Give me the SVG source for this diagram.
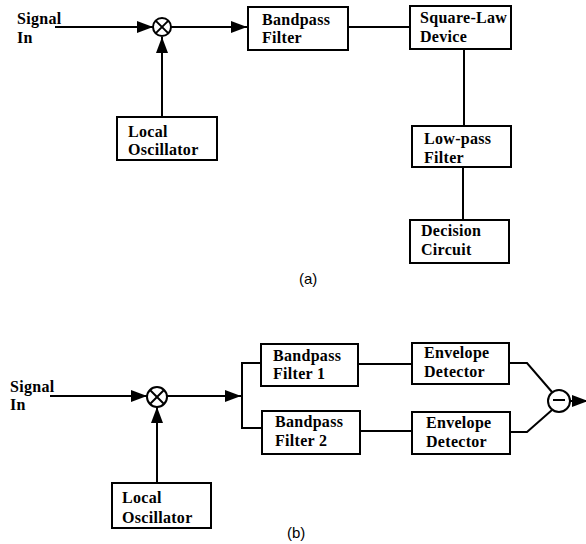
<svg xmlns="http://www.w3.org/2000/svg" width="586" height="544" viewBox="0 0 586 544">
<style>
.box{fill:#fff;stroke:#000;stroke-width:2}
.ln{fill:none;stroke:#000;stroke-width:2}
.t{font-family:"Liberation Serif",serif;font-weight:bold;font-size:16px;letter-spacing:0.3px;fill:#000}
.cap{font-family:"Liberation Sans",Arial,sans-serif;font-size:15px;fill:#000}
</style>
<defs>
<marker id="ah" viewBox="0 0 16 12" refX="16" refY="6" markerWidth="16" markerHeight="12" markerUnits="userSpaceOnUse" orient="auto">
<path d="M0,0 L16,6 L0,12 Z" fill="#000"/>
</marker>
</defs>
<g id="connectors">
<line class="ln" x1="55" y1="27" x2="153" y2="27" marker-end="url(#ah)"/>
<line class="ln" x1="162" y1="117" x2="162" y2="37" marker-end="url(#ah)"/>
<line class="ln" x1="171" y1="27" x2="247" y2="27" marker-end="url(#ah)"/>
<line class="ln" x1="348" y1="27" x2="410" y2="27"/>
<line class="ln" x1="464" y1="49" x2="464" y2="126"/>
<line class="ln" x1="463" y1="167" x2="463" y2="220"/>
<line class="ln" x1="50" y1="396" x2="147" y2="396" marker-end="url(#ah)"/>
<line class="ln" x1="157" y1="483" x2="157" y2="407" marker-end="url(#ah)"/>
<line class="ln" x1="167" y1="396" x2="241" y2="396" marker-end="url(#ah)"/>
<polyline class="ln" points="261,363 242,363 242,428 262,428"/>
<line class="ln" x1="358" y1="364" x2="412" y2="364"/>
<line class="ln" x1="360" y1="431" x2="412" y2="431"/>
<polyline class="ln" points="509,363 527,363 552,392"/>
<polyline class="ln" points="510,432 527,432 552,410"/>
<line class="ln" x1="570" y1="401" x2="588" y2="401" marker-end="url(#ah)"/>
</g>
<g id="mixer-a">
<circle class="box" cx="162" cy="27" r="9"/>
<line class="ln" x1="155.6" y1="20.6" x2="168.4" y2="33.4"/>
<line class="ln" x1="168.4" y1="20.6" x2="155.6" y2="33.4"/>
</g>
<g id="signal-in-a"><text class="t" x="17" y="24">Signal</text><text class="t" x="17" y="43">In</text></g>
<g id="bandpass-a"><rect class="box" x="248" y="7" width="100" height="43"/><text class="t" x="262" y="25">Bandpass</text><text class="t" x="262" y="43">Filter</text></g>
<g id="squarelaw-a"><rect class="box" x="410" y="6" width="101" height="43"/><text class="t" x="420" y="23">Square-Law</text><text class="t" x="420" y="42">Device</text></g>
<g id="lowpass-a"><rect class="box" x="412" y="126" width="99" height="41"/><text class="t" x="424" y="144">Low-pass</text><text class="t" x="424" y="163">Filter</text></g>
<g id="decision-a"><rect class="box" x="410" y="220" width="99" height="43"/><text class="t" x="421" y="236">Decision</text><text class="t" x="421" y="255">Circuit</text></g>
<g id="lo-a"><rect class="box" x="117" y="117" width="100" height="43"/><text class="t" x="128" y="137">Local</text><text class="t" x="128" y="155">Oscillator</text></g>
<text class="cap" x="299" y="284">(a)</text>
<g id="mixer-b">
<circle class="box" cx="157" cy="397" r="10"/>
<line class="ln" x1="150" y1="390" x2="164" y2="404"/>
<line class="ln" x1="164" y1="390" x2="150" y2="404"/>
</g>
<g id="signal-in-b"><text class="t" x="10" y="392">Signal</text><text class="t" x="10" y="410">In</text></g>
<g id="lo-b"><rect class="box" x="112" y="483" width="99" height="45"/><text class="t" x="122" y="503">Local</text><text class="t" x="122" y="523">Oscillator</text></g>
<g id="bpf1-b"><rect class="box" x="261" y="344" width="97" height="42"/><text class="t" x="273" y="361">Bandpass</text><text class="t" x="273" y="379">Filter 1</text></g>
<g id="bpf2-b"><rect class="box" x="262" y="411" width="98" height="43"/><text class="t" x="275" y="427">Bandpass</text><text class="t" x="275" y="446">Filter 2</text></g>
<g id="env1-b"><rect class="box" x="412" y="343" width="97" height="41"/><text class="t" x="424" y="358">Envelope</text><text class="t" x="424" y="377">Detector</text></g>
<g id="env2-b"><rect class="box" x="412" y="412" width="98" height="42"/><text class="t" x="426" y="428">Envelope</text><text class="t" x="426" y="447">Detector</text></g>
<g id="sub-b">
<circle class="box" cx="559" cy="401" r="11"/>
<line class="ln" x1="553" y1="400" x2="565" y2="400"/>
</g>
<text class="cap" x="287" y="538">(b)</text>
</svg>
